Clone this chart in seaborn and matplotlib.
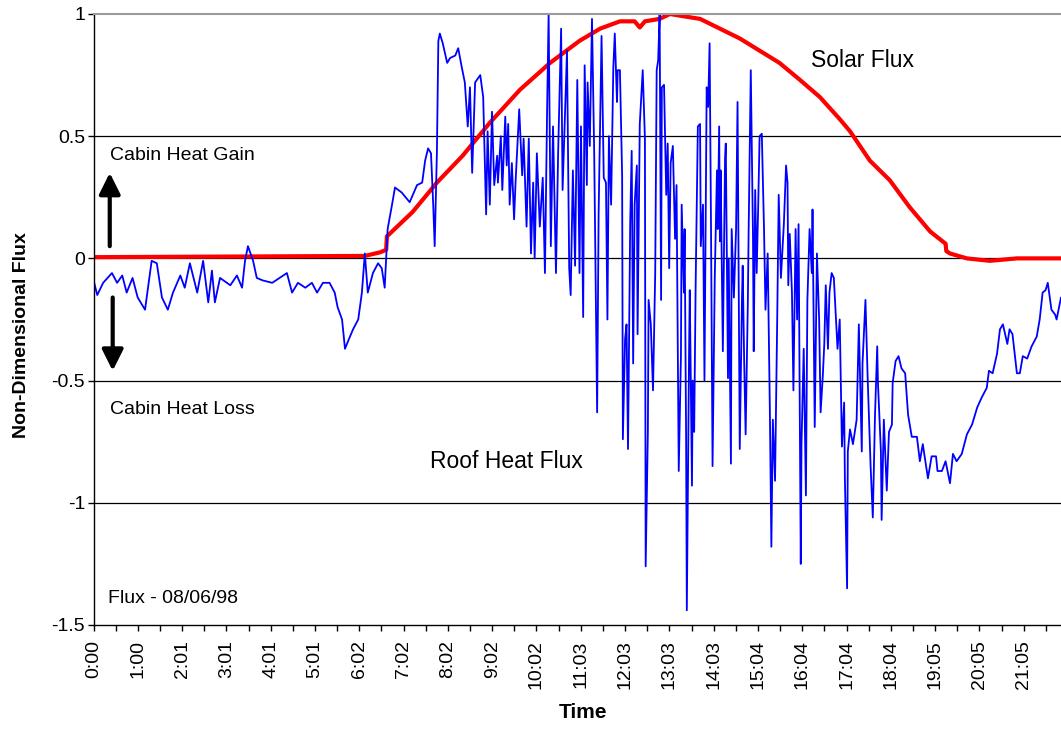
import pandas as pd
import matplotlib
matplotlib.use("Agg")
import matplotlib.pyplot as plt
import seaborn as sns

# Roof heat flux, time in minutes after 0:00
roof_time = [0, 5, 13, 25, 32, 39, 45, 53, 60, 70, 79, 86, 93, 101, 108, 118, 124, 131, 141, 149,
             156, 161, 165, 172, 186, 195, 202, 206, 210, 217, 222, 230, 243, 253, 263, 270, 278,
             288, 297, 304, 312, 321, 328, 332, 338, 342, 346, 353, 360, 365, 369, 373, 380, 387,
             392, 396, 400, 406, 410, 419, 430, 440, 447, 451, 455, 459, 462, 464, 467, 469, 471,
             475, 481, 485, 492, 496, 501, 505, 509, 512, 515, 519, 526, 530, 534, 536, 539, 542,
             545, 549, 550, 554, 556, 560, 562, 564, 566, 569, 572, 574, 579, 583, 585, 589, 592,
             595, 598, 600, 603, 607, 611, 614, 617, 619, 622, 625, 629, 632, 636, 638, 641, 644,
             647, 649, 652, 655, 658, 661, 663, 666, 668, 671, 672, 675, 678, 681, 685, 687, 691,
             694, 697, 699, 701, 704, 707, 709, 712, 713, 716, 719, 720, 723, 725, 727, 730, 732,
             734, 736, 739, 740, 743, 747, 750, 751, 754, 755, 758, 761, 764, 766, 768, 770, 772,
             773, 776, 779, 781, 783, 785, 788, 791, 793, 796, 799, 800, 803, 804, 806, 807, 810,
             811, 814, 815, 817, 819, 822, 825, 826, 829, 831, 834, 836, 838, 840, 842, 845, 848,
             849, 851, 852, 853, 856, 859, 860, 863, 864, 867, 868, 871, 874, 876, 879, 882, 883,
             885, 887, 890, 891, 894, 897, 898, 900, 902, 904, 906, 909, 912, 914, 917, 920, 922,
             924, 927, 930, 932, 935, 939, 942, 944, 945, 947, 950, 952, 955, 957, 959, 962, 963,
             966, 969, 971, 974, 977, 978, 981, 984, 987, 989, 992, 994, 996, 999, 1001, 1004,
             1007, 1010, 1012, 1015, 1018, 1021, 1022, 1025, 1026, 1029, 1033, 1038, 1041, 1045,
             1046, 1050, 1053, 1057, 1060, 1063, 1066, 1067, 1071, 1072, 1075, 1079, 1082, 1086,
             1087, 1091, 1095, 1099, 1104, 1108, 1113, 1120, 1124, 1128, 1135, 1140, 1146, 1148,
             1154, 1159, 1165, 1169, 1174, 1181, 1188, 1195, 1202, 1208, 1215, 1218, 1223, 1229,
             1233, 1237, 1243, 1246, 1250, 1256, 1260, 1264, 1270, 1276, 1283, 1287, 1291, 1295,
             1298, 1303, 1308, 1310, 1316]
roof_flux = [-0.09, -0.15, -0.10, -0.06, -0.10, -0.07, -0.14, -0.08, -0.16, -0.21, -0.01, -0.02,
             -0.16, -0.21, -0.14, -0.07, -0.12, -0.02, -0.14, -0.01, -0.18, -0.05, -0.18, -0.08,
             -0.11, -0.07, -0.12, -0.01, 0.05, -0.01, -0.08, -0.09, -0.10, -0.08, -0.06, -0.14,
             -0.10, -0.12, -0.10, -0.14, -0.10, -0.10, -0.14, -0.20, -0.25, -0.37, -0.34, -0.29,
             -0.25, -0.14, 0.02, -0.14, -0.06, -0.02, -0.04, -0.12, 0.12, 0.22, 0.29, 0.27, 0.23,
             0.30, 0.31, 0.40, 0.45, 0.43, 0.22, 0.05, 0.43, 0.89, 0.92, 0.88, 0.80, 0.82, 0.83,
             0.86, 0.78, 0.72, 0.54, 0.70, 0.35, 0.72, 0.75, 0.66, 0.18, 0.52, 0.22, 0.60, 0.30,
             0.42, 0.31, 0.50, 0.28, 0.58, 0.38, 0.55, 0.22, 0.39, 0.16, 0.31, 0.61, 0.34, 0.49,
             0.13, 0.49, 0.02, 0.31, 0.00, 0.43, 0.13, 0.33, -0.06, 0.62, 1.00, 0.05, 0.54, -0.06,
             0.44, 0.94, 0.28, 0.57, 0.85, -0.04, -0.15, 0.36, -0.03, 0.73, -0.06, 0.54, -0.24,
             0.79, 0.30, 0.72, 0.46, 0.98, 0.43, -0.63, 0.18, 0.91, 0.33, 0.31, -0.25, 0.50, 0.22,
             0.78, 0.92, 0.64, 0.77, 0.77, 0.34, -0.74, -0.33, -0.27, -0.78, 0.15, 0.44, -0.43,
             0.22, 0.38, -0.31, 0.55, 0.77, 0.49, -1.26, -0.71, -0.17, -0.27, -0.54, -0.06, 0.77,
             0.81, 1.00, -0.17, 0.70, 0.71, 0.26, 0.47, -0.04, 0.39, 0.46, 0.08, 0.30, -0.87,
             -0.40, 0.22, -0.14, 0.12, -0.72, -1.44, -0.40, -0.13, -0.93, -0.50, -0.71, -0.11,
             0.54, 0.55, 0.05, 0.22, -0.50, 0.70, 0.62, 0.88, 0.09, -0.85, -0.08, 0.36, 0.12, 0.54,
             0.07, 0.36, -0.38, 0.41, 0.47, -0.49, 0.00, -0.84, 0.12, -0.16, 0.12, 0.64, -0.78,
             -0.17, -0.03, -0.42, -0.72, -0.18, 0.09, 0.77, 0.09, -0.38, 0.28, -0.06, 0.20, 0.50,
             0.51, 0.12, -0.21, 0.02, -0.63, -1.18, -0.66, -0.91, -0.24, 0.26, -0.08, 0.14, 0.38,
             0.31, -0.11, 0.10, -0.14, -0.54, 0.12, -0.25, 0.14, -1.25, -0.76, -0.37, -0.97, -0.17,
             0.12, -0.06, 0.20, -0.69, 0.02, -0.25, -0.63, -0.48, -0.35, -0.11, -0.37, -0.14, -0.06,
             -0.08, -0.25, -0.37, -0.25, -0.77, -0.59, -0.90, -1.35, -0.79, -0.70, -0.76, -0.66,
             -0.27, -0.79, -0.43, -0.17, -0.49, -0.85, -1.06, -0.64, -0.36, -0.51, -0.79, -1.07,
             -0.66, -0.95, -0.71, -0.68, -0.51, -0.42, -0.40, -0.45, -0.47, -0.64, -0.73, -0.73,
             -0.83, -0.76, -0.90, -0.81, -0.81, -0.87, -0.87, -0.83, -0.92, -0.80, -0.83, -0.80,
             -0.72, -0.68, -0.61, -0.57, -0.53, -0.46, -0.47, -0.39, -0.29, -0.27, -0.35, -0.29,
             -0.31, -0.47, -0.47, -0.40, -0.41, -0.36, -0.32, -0.25, -0.14, -0.13, -0.10, -0.21,
             -0.23, -0.25, -0.16]

# Solar flux
solar_time = [0, 369, 390, 398, 399, 434, 467, 502, 539, 580, 621, 661, 689, 716, 736, 743, 750,
              770, 784, 804, 825, 852, 879, 906, 933, 961, 988, 1015, 1029, 1056, 1083, 1110, 1138,
              1159, 1160, 1165, 1188, 1219, 1256, 1316]
solar_flux = [0.005, 0.01, 0.025, 0.035, 0.09, 0.19, 0.31, 0.42, 0.555, 0.69, 0.80, 0.89, 0.94,
              0.97, 0.97, 0.945, 0.97, 0.98, 1.0, 0.99, 0.98, 0.94, 0.90, 0.85, 0.80, 0.73, 0.66,
              0.57, 0.52, 0.40, 0.32, 0.21, 0.11, 0.06, 0.03, 0.02, 0.0, -0.01, 0.0, 0.0]

tick_labels = ["0:00", "1:00", "2:01", "3:01", "4:01", "5:01", "6:02", "7:02", "8:02", "9:02",
               "10:02", "11:03", "12:03", "13:03", "14:03", "15:04", "16:04", "17:04", "18:04",
               "19:05", "20:05", "21:05"]
label_step = 60.25  # minutes between labelled categories

sns.set_style("white")
plt.rcParams["font.family"] = ["Liberation Sans", "DejaVu Sans"]
plt.rcParams["text.color"] = "black"
plt.rcParams["axes.labelcolor"] = "black"
plt.rcParams["xtick.color"] = "black"
plt.rcParams["ytick.color"] = "black"

roof = pd.DataFrame({"Time": roof_time, "Flux": roof_flux})
solar = pd.DataFrame({"Time": solar_time, "Flux": solar_flux})

fig = plt.figure(figsize=(10.61, 7.29), dpi=100)
ax = fig.add_axes([0.0882, 0.1427, 0.9118, 0.8381])

for yv in [-1, -0.5, 0, 0.5]:
    ax.axhline(yv, color="black", lw=0.9, zorder=0)

sns.lineplot(data=solar, x="Time", y="Flux", color="#FF0000", lw=3, estimator=None, ax=ax)
sns.lineplot(data=roof, x="Time", y="Flux", color="#0000FF", lw=1.3, estimator=None, ax=ax)

ax.set_xlim(0, 1316)
ax.set_ylim(-1.5, 1)

ax.set_yticks([-1.5, -1, -0.5, 0, 0.5, 1])
ax.set_yticklabels(["-1.5", "-1", "-0.5", "0", "0.5", "1"])
ax.set_xticks([k * label_step for k in range(len(tick_labels))])
ax.set_xticklabels(tick_labels, rotation=90)
ax.set_xticks([(k + 0.5) * label_step for k in range(len(tick_labels))], minor=True)

ax.tick_params(axis="x", which="both", bottom=True, direction="out", length=4,
               width=1, color="black", labelsize=14, labelcolor="black", pad=7)
ax.tick_params(axis="y", left=True, direction="out", length=4, width=1,
               color="black", labelsize=14, labelcolor="black", pad=2)

for side in ["left", "bottom"]:
    ax.spines[side].set_color("black")
    ax.spines[side].set_linewidth(1)
ax.spines["top"].set_color("#9A9A9A")
ax.spines["top"].set_linewidth(1.5)
ax.spines["right"].set_visible(False)

ax.set_xlabel("Time", fontsize=15, fontweight="bold", color="black")
ax.xaxis.set_label_coords(0.506, -0.128)
ax.set_ylabel("Non-Dimensional Flux", fontsize=14, fontweight="bold", color="black")
ax.yaxis.set_label_coords(-0.066, 0.475)

# annotations
ax.text(22, 0.42, "Cabin Heat Gain", fontsize=14, va="center", ha="left", color="black")
ax.text(22, -0.62, "Cabin Heat Loss", fontsize=14, va="center", ha="left", color="black")
ax.text(457, -0.83, "Roof Heat Flux", fontsize=16.5, va="center", ha="left", color="black")
ax.text(976, 0.81, "Solar Flux", fontsize=16.5, va="center", ha="left", color="black")
ax.text(20, -1.39, "Flux - 08/06/98", fontsize=14, va="center", ha="left", color="black")

arrow = dict(arrowstyle="-|>,head_length=0.4,head_width=0.2", mutation_scale=32,
             lw=3, color="black", shrinkA=0, shrinkB=0)
ax.annotate("", xy=(22, 0.35), xytext=(22, 0.05), arrowprops=arrow)
ax.annotate("", xy=(26, -0.46), xytext=(26, -0.16), arrowprops=arrow)

fig.savefig("out.png", dpi=100)
